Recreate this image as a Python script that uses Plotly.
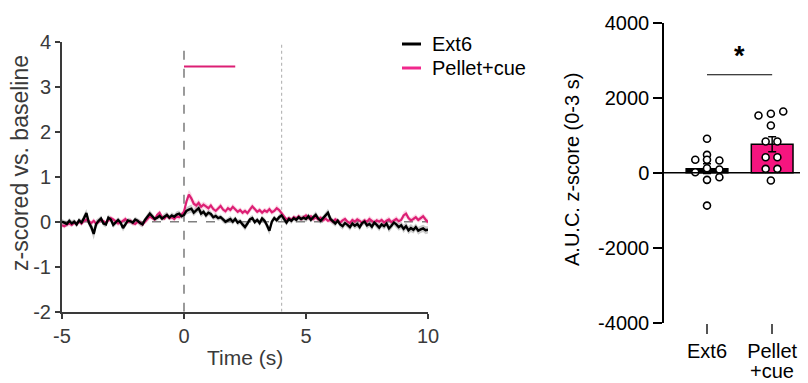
import numpy as np
import plotly.graph_objects as go

# ---------------- data ----------------
time_s = np.round(np.arange(-5.0, 10.0001, 0.1), 1)

ext6_mean_trace = [
    0.0, -0.03, -0.05, 0.02, -0.04, 0.0, -0.06, 0.03, -0.02, 0.08,
    0.19, -0.02, -0.12, -0.27, -0.05, 0.02, 0.07, -0.04, -0.06, 0.09,
    0.05, -0.07, -0.02, 0.04, -0.02, -0.14, -0.06, 0.03, 0.01, -0.02,
    0.05, 0.02, -0.03, -0.06, 0.04, 0.1, 0.18, 0.12, 0.06, 0.09,
    0.13, 0.07, 0.12, 0.15, 0.09, 0.14, 0.11, 0.16, 0.18, 0.12,
    0.15, 0.24, 0.27, 0.29, 0.2, 0.26, 0.3, 0.18, 0.22, 0.14,
    0.2, 0.17, 0.1, 0.13, 0.08, 0.1, 0.04, 0.0, 0.03, 0.06,
    0.0, 0.06, -0.02, 0.01, -0.06, -0.12, -0.04, 0.05, 0.08, -0.01,
    0.04, -0.03, 0.07, 0.02, -0.08, -0.2, 0.0, 0.08, 0.03, 0.1,
    0.14, 0.05, -0.02, 0.06, 0.02, 0.08, 0.04, 0.1, 0.06, 0.09,
    0.06, 0.12, 0.04, 0.1, 0.15, 0.07, 0.02, 0.08, 0.13, 0.2,
    0.06, 0.0, -0.04, 0.02, -0.06, -0.1, -0.03, -0.07, -0.12, -0.04,
    -0.09, -0.05, -0.12, -0.03, 0.0, -0.08, -0.05, -0.11, -0.02, -0.07,
    -0.13, -0.06, -0.1, -0.04, -0.15, -0.09, -0.02, -0.06, -0.12, -0.08,
    -0.16, -0.1, -0.19, -0.14, -0.18, -0.12, -0.2, -0.17, -0.15, -0.19,
    -0.18,
]
ext6_sem_trace = [
    0.06, 0.06, 0.07, 0.06, 0.07, 0.06, 0.07, 0.06, 0.07, 0.08,
    0.09, 0.08, 0.1, 0.13, 0.1, 0.07, 0.07, 0.06, 0.07, 0.07,
    0.06, 0.07, 0.06, 0.06, 0.07, 0.08, 0.07, 0.06, 0.06, 0.06,
    0.06, 0.06, 0.07, 0.07, 0.06, 0.07, 0.08, 0.07, 0.06, 0.06,
    0.07, 0.06, 0.07, 0.07, 0.06, 0.07, 0.06, 0.07, 0.07, 0.06,
    0.07, 0.08, 0.09, 0.09, 0.08, 0.08, 0.09, 0.08, 0.07, 0.07,
    0.07, 0.07, 0.06, 0.07, 0.06, 0.06, 0.07, 0.06, 0.06, 0.07,
    0.07, 0.06, 0.07, 0.06, 0.07, 0.08, 0.07, 0.06, 0.07, 0.06,
    0.06, 0.07, 0.06, 0.07, 0.07, 0.09, 0.07, 0.06, 0.06, 0.07,
    0.07, 0.06, 0.07, 0.06, 0.07, 0.06, 0.07, 0.06, 0.07, 0.06,
    0.07, 0.07, 0.06, 0.07, 0.08, 0.07, 0.07, 0.06, 0.08, 0.09,
    0.08, 0.07, 0.07, 0.06, 0.07, 0.08, 0.07, 0.07, 0.08, 0.07,
    0.07, 0.08, 0.08, 0.07, 0.07, 0.08, 0.07, 0.08, 0.07, 0.08,
    0.08, 0.07, 0.08, 0.08, 0.09, 0.08, 0.07, 0.08, 0.08, 0.08,
    0.09, 0.08, 0.09, 0.09, 0.08, 0.08, 0.09, 0.08, 0.08, 0.09,
    0.08,
]
pellet_mean_trace = [
    -0.08, -0.1, -0.06, -0.04, -0.07, -0.02, -0.05, 0.0, -0.04, 0.02,
    0.05, 0.0, -0.03, 0.02, -0.05, 0.0, 0.04, 0.01, -0.03, 0.03,
    0.08, 0.05, 0.0, -0.04, -0.02, 0.03, 0.06, -0.01, 0.02, -0.03,
    -0.05, 0.0, -0.02, -0.06, 0.0, 0.04, 0.12, 0.08, 0.05, 0.15,
    0.2, 0.1, 0.07, 0.14, 0.08, 0.1, 0.06, 0.12, 0.1, 0.16,
    0.22, 0.45, 0.6, 0.52, 0.4, 0.36, 0.42, 0.33, 0.38, 0.34,
    0.3, 0.36, 0.28, 0.24, 0.3, 0.35, 0.27, 0.23, 0.3, 0.26,
    0.33, 0.28, 0.22, 0.26, 0.2, 0.24, 0.19, 0.27, 0.34, 0.28,
    0.22, 0.26, 0.2, 0.25, 0.22, 0.28, 0.21, 0.24, 0.3, 0.26,
    0.2, 0.12, 0.05, 0.08, 0.04, 0.1, 0.07, 0.12, 0.06, 0.1,
    0.14, 0.08, 0.12, 0.06, 0.1, 0.05, 0.09, 0.03, 0.07, 0.02,
    0.04, 0.0, 0.05, 0.02, -0.02, 0.03, 0.06, 0.0, -0.03, 0.04,
    0.0, 0.05, 0.02, -0.03, 0.03, 0.0, 0.06, 0.02, -0.02, 0.03,
    0.0, 0.04, -0.02, 0.02, 0.05, -0.01, 0.02, 0.06, 0.01, 0.04,
    0.14, 0.18, 0.08, 0.03, 0.06, 0.1, 0.04, 0.08, 0.12, 0.05,
    -0.01,
]
pellet_sem_trace = [
    0.05, 0.05, 0.05, 0.06, 0.05, 0.05, 0.06, 0.05, 0.05, 0.06,
    0.06, 0.05, 0.05, 0.06, 0.05, 0.05, 0.06, 0.05, 0.05, 0.06,
    0.06, 0.05, 0.05, 0.06, 0.05, 0.05, 0.06, 0.05, 0.05, 0.06,
    0.05, 0.05, 0.06, 0.05, 0.05, 0.06, 0.06, 0.05, 0.05, 0.06,
    0.06, 0.06, 0.05, 0.06, 0.05, 0.06, 0.05, 0.06, 0.06, 0.06,
    0.07, 0.09, 0.11, 0.1, 0.09, 0.08, 0.08, 0.08, 0.07, 0.07,
    0.07, 0.07, 0.07, 0.06, 0.07, 0.07, 0.06, 0.06, 0.07, 0.06,
    0.07, 0.06, 0.06, 0.06, 0.06, 0.06, 0.06, 0.07, 0.07, 0.06,
    0.06, 0.06, 0.06, 0.06, 0.06, 0.07, 0.06, 0.06, 0.07, 0.06,
    0.06, 0.06, 0.05, 0.06, 0.05, 0.06, 0.05, 0.06, 0.05, 0.06,
    0.06, 0.06, 0.05, 0.06, 0.06, 0.05, 0.06, 0.05, 0.06, 0.05,
    0.06, 0.05, 0.06, 0.05, 0.06, 0.06, 0.06, 0.05, 0.06, 0.06,
    0.06, 0.06, 0.06, 0.06, 0.06, 0.06, 0.07, 0.06, 0.06, 0.06,
    0.06, 0.06, 0.06, 0.06, 0.07, 0.06, 0.06, 0.07, 0.06, 0.06,
    0.08, 0.08, 0.07, 0.06, 0.07, 0.07, 0.06, 0.07, 0.07, 0.07,
    0.07,
]

# tick labels
time_ticks = [-5, 0, 5, 10]
time_tick_text = ["-5", "0", "5", "10"]
z_ticks = [-2, -1, 0, 1, 2, 3, 4]
z_tick_text = ["-2", "-1", "0", "1", "2", "3", "4"]
auc_ticks = [-4000, -2000, 0, 2000, 4000]
auc_tick_text = ["-4000", "-2000", "0", "2000", "4000"]

# AUC bar chart
groups = ["Ext6", "Pellet"]
group_second_line = ["", "+cue"]
group_means = [110, 760]
group_sems = [130, 200]
ext6_points = [907, 347, 480, 347, 328, 16, 124, 88, -187, -117, -872]
ext6_jitter = [0.0, -0.18, 0.0, 0.0, 0.19, -0.18, 0.0, 0.19, 0.0, 0.19, 0.0]
pellet_points = [1528, 1573, 1635, 1261, 835, 835, 416, 416, 107, 107, -205]
pellet_jitter = [-0.21, -0.02, 0.17, -0.02, -0.10, 0.08, -0.10, 0.08, -0.10, 0.08, -0.02]
sig_y = 2613
star_y = 3120
pellet_bar_window = [0.0, 2.1]
pellet_bar_level = 3.45

PINK_LINE = "#DC1F74"
PINK_BAR = "#F5157F"
FONT = "Liberation Sans, Arial, sans-serif"
LEFT_TXT = "#3a3a3a"

# the page puts the figure 8px in from the top-left corner
OFF = 8
W, H = 808 - OFF, 383 - OFF
def px(x):
    return (x - OFF) / W
def py(y):
    return 1 - (y - OFF) / H

fig = go.Figure()

# SEM bands
t_list = list(time_s)
for mean, sem, fill in [
    (ext6_mean_trace, ext6_sem_trace, "rgba(140,140,140,0.45)"),
    (pellet_mean_trace, pellet_sem_trace, "rgba(235,60,130,0.22)"),
]:
    upper = [m + s for m, s in zip(mean, sem)]
    lower = [m - s for m, s in zip(mean, sem)]
    fig.add_trace(go.Scatter(
        x=t_list + t_list[::-1], y=upper + lower[::-1],
        fill="toself", fillcolor=fill, line=dict(width=0),
        hoverinfo="skip", showlegend=False, xaxis="x", yaxis="y"))

fig.add_trace(go.Scatter(x=t_list, y=pellet_mean_trace, mode="lines",
                         line=dict(color=PINK_LINE, width=2.2),
                         name="Pellet+cue", showlegend=False, xaxis="x", yaxis="y"))
fig.add_trace(go.Scatter(x=t_list, y=ext6_mean_trace, mode="lines",
                         line=dict(color="black", width=2.4),
                         name="Ext6", showlegend=False, xaxis="x", yaxis="y"))

# pellet window line
fig.add_trace(go.Scatter(x=pellet_bar_window, y=[pellet_bar_level] * 2, mode="lines",
                         line=dict(color=PINK_LINE, width=2), showlegend=False,
                         hoverinfo="skip", xaxis="x", yaxis="y"))

# ---------- bar chart ----------
fig.add_trace(go.Bar(x=[0, 1], y=group_means, width=0.64,
                     marker=dict(color=["black", PINK_BAR], line=dict(color="black", width=1.5)),
                     error_y=dict(type="data", array=group_sems, color="black", thickness=1.5, width=4),
                     showlegend=False, xaxis="x2", yaxis="y2"))
fig.add_trace(go.Scatter(x=[0 + j for j in ext6_jitter], y=ext6_points, mode="markers",
                         marker=dict(size=7, color="white", line=dict(color="black", width=1.6)),
                         showlegend=False, xaxis="x2", yaxis="y2"))
fig.add_trace(go.Scatter(x=[1 + j for j in pellet_jitter], y=pellet_points, mode="markers",
                         marker=dict(size=7, color="white", line=dict(color="black", width=1.6)),
                         showlegend=False, xaxis="x2", yaxis="y2"))
fig.add_trace(go.Scatter(x=[0, 1], y=[sig_y, sig_y], mode="lines",
                         line=dict(color="black", width=1.2), showlegend=False, xaxis="x2", yaxis="y2"))

shapes = [
    dict(type="line", xref="x", yref="y", x0=0, x1=0, y0=-2, y1=4,
         line=dict(color="#707070", width=1.4, dash="dash"), layer="below"),
    dict(type="line", xref="x", yref="y", x0=4, x1=4, y0=-2, y1=4,
         line=dict(color="#b8b8b8", width=1.2, dash="dot"), layer="below"),
    dict(type="line", xref="x", yref="y", x0=-5, x1=10, y0=0, y1=0,
         line=dict(color="#808080", width=1.4, dash="dash"), layer="below"),
    dict(type="line", xref="paper", yref="y2", x0=px(664), x1=1.0, y0=0, y1=0,
         line=dict(color="black", width=1.5)),
    dict(type="line", xref="paper", yref="paper", x0=px(402), x1=px(421), y0=py(44), y1=py(44),
         line=dict(color="black", width=3)),
    dict(type="line", xref="paper", yref="paper", x0=px(402), x1=px(421), y0=py(68), y1=py(68),
         line=dict(color="#F0288C", width=3)),
]

annotations = [
    dict(text="Ext6", x=px(430), y=py(44), xref="paper", yref="paper", xanchor="left",
         yanchor="middle", showarrow=False, font=dict(size=20, color="black", family=FONT)),
    dict(text="Pellet+cue", x=px(430), y=py(68), xref="paper", yref="paper", xanchor="left",
         yanchor="middle", showarrow=False, font=dict(size=20, color="black", family=FONT)),
    dict(text="z-scored vs. baseline", x=px(20), y=py(163), xref="paper", yref="paper",
         textangle=-90, showarrow=False, xanchor="center", yanchor="middle",
         font=dict(size=23, color=LEFT_TXT, family=FONT)),
    dict(text="Time (s)", x=px(245), y=py(357), xref="paper", yref="paper",
         showarrow=False, xanchor="center", yanchor="middle",
         font=dict(size=21, color=LEFT_TXT, family=FONT)),
    dict(text="A.U.C. z-score (0-3 s)", x=px(572), y=py(170), xref="paper", yref="paper",
         textangle=-90, showarrow=False, xanchor="center", yanchor="middle",
         font=dict(size=20, color="black", family=FONT)),
    dict(text="<b>*</b>", x=0.5, y=star_y, xref="x2", yref="y2", showarrow=False,
         font=dict(size=27, color="black", family=FONT)),
]
for i, line2 in enumerate(group_second_line):
    if line2:
        annotations.append(dict(text=line2, x=i, y=py(371), xref="x2", yref="paper",
                                showarrow=False, xanchor="center", yanchor="middle",
                                font=dict(size=20, color="black", family=FONT)))

fig.update_layout(
    width=W, height=H, margin=dict(l=0, r=0, t=0, b=0, autoexpand=False),
    paper_bgcolor="white", plot_bgcolor="white",
    font=dict(family=FONT, size=20, color="black"),
    shapes=shapes, annotations=annotations, showlegend=False,
    xaxis=dict(domain=[px(62), px(428)], range=[-5, 10], tickvals=time_ticks, ticktext=time_tick_text,
               showgrid=False, zeroline=False, showline=True, linecolor=LEFT_TXT, linewidth=2,
               ticks="outside", ticklen=5, tickwidth=2, tickcolor=LEFT_TXT, automargin=False,
               tickfont=dict(size=20, color=LEFT_TXT), anchor="y"),
    yaxis=dict(domain=[py(311.7), py(41.7)], range=[-2, 4], tickvals=z_ticks, ticktext=z_tick_text,
               showgrid=False, zeroline=False, showline=True, linecolor=LEFT_TXT, linewidth=2,
               ticks="outside", ticklen=5, tickwidth=2, tickcolor=LEFT_TXT, automargin=False,
               tickfont=dict(size=20, color=LEFT_TXT), anchor="x"),
    xaxis2=dict(domain=[px(664), 1.0], range=[-0.66, 1.55], tickvals=[0, 1], ticktext=groups,
                showgrid=False, zeroline=False, showline=False, automargin=False,
                ticks="outside", ticklen=10, tickwidth=1.5, tickcolor="#555555",
                tickfont=dict(size=20, color="black"), anchor="y2"),
    yaxis2=dict(domain=[py(323), py(22.7)], range=[-4000, 4000],
                tickvals=auc_ticks, ticktext=auc_tick_text, automargin=False,
                showgrid=False, zeroline=False, showline=True, linecolor="black", linewidth=1.5,
                ticks="outside", ticklen=9, tickwidth=1.5, tickcolor="black",
                tickfont=dict(size=20, color="black"), anchor="x2"),
)

fig.write_html("out.html")
